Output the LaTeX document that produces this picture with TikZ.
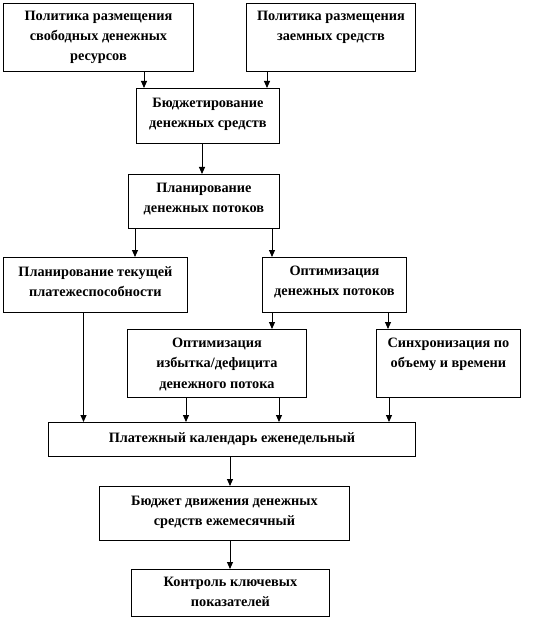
\documentclass[tikz,border=0pt]{standalone}
\usepackage{fontspec}
\setmainfont{Liberation Serif}
\usetikzlibrary{arrows.meta}
\tikzset{
  box/.style={draw=black, line width=0.9pt, rectangle, inner sep=0pt, anchor=north west},
  txt/.style={anchor=north, align=center, inner sep=0pt, font=\fontsize{14.3}{20.2}\selectfont\bfseries},
  arr/.style={line width=0.9pt, -{Triangle[length=7pt,width=6pt]}},
  ln/.style={line width=0.9pt}
}
\newcommand\bx[7]{%
  \node[box, minimum width=#4pt-#2pt, minimum height=#5pt-#3pt] (#1) at (#2,#3) {};
  \node[txt] (#1t) at ([yshift=-#6pt]#1.north) {#7};}
\begin{document}
\begin{tikzpicture}[x=1pt,y=-1pt]
\useasboundingbox (0,0) rectangle (543,620);
\bx{b1}{3}{3}{193}{71}{8}{Политика размещения\\свободных денежных\\ресурсов}
\bx{b2}{246}{3}{415}{71}{8}{Политика размещения\\заемных средств}
\bx{b3}{136}{88}{279}{143}{10}{Бюджетирование\\денежных средств}
\bx{b4}{128}{174}{279}{228}{8.5}{Планирование\\денежных потоков}
\bx{b5}{3}{257}{187}{312}{9}{Планирование текущей\\платежеспособности}
\bx{b6}{262}{257}{406}{312}{9}{Оптимизация\\денежных потоков}
\bx{b7}{127}{329}{306}{397}{9}{Оптимизация\\избытка/дефицита\\денежного потока}
\bx{b8}{376}{329}{520}{397}{9}{Синхронизация по\\объему и времени}
\bx{b9}{48}{422}{415}{456}{10.5}{Платежный календарь еженедельный}
\bx{b10}{99}{486}{349}{540}{10}{Бюджет движения денежных\\средств ежемесячный}
\bx{b11}{131}{569}{329}{616}{8}{Контроль ключевых\\показателей}
% connectors
\draw[arr] (144,0 |- b1.south) -- (144,0 |- b3.north);
\draw[arr] (267,0 |- b2.south) -- (267,0 |- b3.north);
\draw[arr] (202,0 |- b3.south) -- (202,0 |- b4.north);
\draw[arr] (135,0 |- b4.south) -- (135,0 |- b5.north);
\draw[arr] (272,0 |- b4.south) -- (272,0 |- b6.north);
\draw[arr] (83.5,0 |- b5.south) -- (83.5,0 |- b9.north);
\draw[arr] (272,0 |- b6.south) -- (272,0 |- b7.north);
\draw[arr] (388,0 |- b6.south) -- (388,0 |- b8.north);
\draw[arr] (186,0 |- b7.south) -- (186,0 |- b9.north);
\draw[arr] (279,0 |- b7.south) -- (279,0 |- b9.north);
\draw[arr] (389,0 |- b8.south) -- (389,0 |- b9.north);
\draw[arr] (230,0 |- b9.south) -- (230,0 |- b10.north);
\draw[arr] (230,0 |- b10.south) -- (230,0 |- b11.north);
\end{tikzpicture}
\end{document}
